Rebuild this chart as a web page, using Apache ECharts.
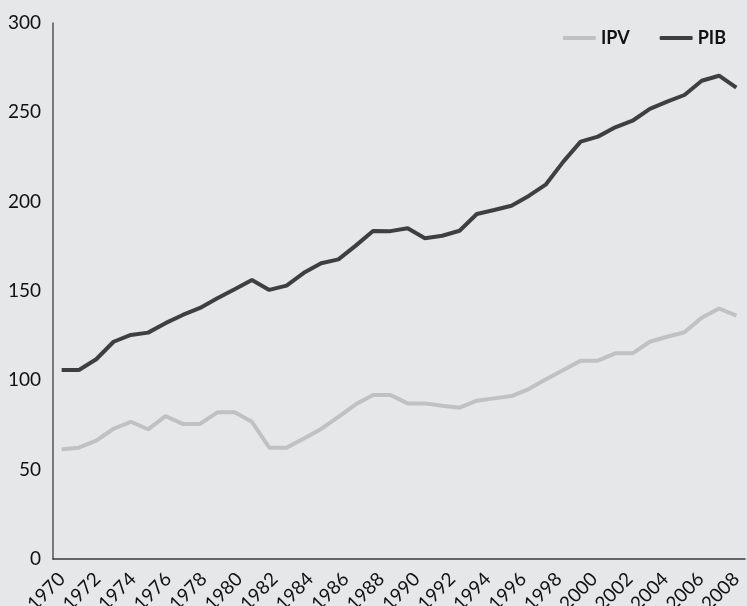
<!DOCTYPE html>
<html>
<head>
<meta charset="utf-8">
<script src="https://cdn.jsdelivr.net/npm/echarts@6/dist/echarts.min.js"></script>
<style>
html, body { margin: 0; padding: 0; background: #e6e7e9; }
#chart { width: 747px; height: 606px; }
</style>
</head>
<body>
<div id="chart"></div>
<script>
// data points: one per year, 1970-2009
const years = []
for (let y = 1970; y <= 2009; y++) years.push(String(y))
// tick labels shown under the axis
const tickYears = []
for (let y = 1970; y <= 2008; y++) tickYears.push(String(y))

const ipv = [61.4, 62.3, 66.2, 72.9, 76.8, 72.6, 80.0, 75.6, 75.6, 82.1,
  82.1, 76.8, 62.3, 62.3, 67.5, 72.8, 79.6, 86.6, 91.8, 91.8,
  87.1, 87.1, 85.8, 84.7, 88.6, 89.9, 91.2, 95.1, 100.6, 105.8,
  111.0, 111.0, 115.1, 115.1, 121.6, 124.4, 126.9, 135.0, 140.2, 136.2]

const pib = [105.8, 105.8, 111.8, 121.6, 125.4, 126.7, 132.0, 136.6, 140.5, 145.9,
  151.0, 156.2, 150.6, 153.0, 160.2, 165.5, 167.7, 175.4, 183.6, 183.5,
  185.1, 179.5, 180.9, 183.7, 193.1, 195.3, 197.7, 203.2, 209.7, 222.4,
  233.6, 236.4, 241.6, 245.3, 251.9, 256.0, 259.7, 267.7, 270.5, 263.8]

const chart = echarts.init(document.getElementById('chart'))
const font = 'Lato, "Open Sans", sans-serif'

const option = {
  backgroundColor: '#e6e7e9',
  animation: false,
  textStyle: { fontFamily: font },
  legend: {
    right: 16,
    top: 24,
    itemWidth: 33,
    itemHeight: 4,
    itemGap: 30,
    icon: 'roundRect',
    textStyle: { fontSize: 18, fontWeight: 'bold', color: '#111', fontFamily: font },
    data: ['IPV', 'PIB']
  },
  grid: { left: 53, right: 2, top: 23, bottom: 47, containLabel: false, outerBoundsMode: 'none' },
  xAxis: [
    {
      type: 'category',
      data: years,
      boundaryGap: true,
      axisLine: { lineStyle: { color: '#3a3a3a', width: 1.5 } },
      axisTick: { show: false },
      axisLabel: { show: false }
    },
    {
      type: 'category',
      data: tickYears,
      boundaryGap: true,
      position: 'bottom',
      axisLine: { show: false },
      axisTick: { show: false },
      axisLabel: {
        interval: 1,
        rotate: 45,
        margin: 17,
        fontSize: 19,
        color: '#111',
        fontFamily: font
      }
    }
  ],
  yAxis: {
    type: 'value',
    min: 0,
    max: 300,
    interval: 50,
    splitLine: { show: false },
    axisLine: { show: true, lineStyle: { color: '#555', width: 1.5 } },
    axisTick: { show: false },
    axisLabel: { fontSize: 19, color: '#111', margin: 12, fontFamily: font }
  },
  series: [
    {
      name: 'IPV',
      type: 'line',
      xAxisIndex: 0,
      data: ipv,
      symbol: 'none',
      color: '#c1c1c1',
      lineStyle: { color: '#c1c1c1', width: 4 }
    },
    {
      name: 'PIB',
      type: 'line',
      xAxisIndex: 0,
      data: pib,
      symbol: 'none',
      color: '#3f3f3f',
      lineStyle: { color: '#3f3f3f', width: 4 }
    }
  ]
}

chart.setOption(option)
</script>
</body>
</html>
